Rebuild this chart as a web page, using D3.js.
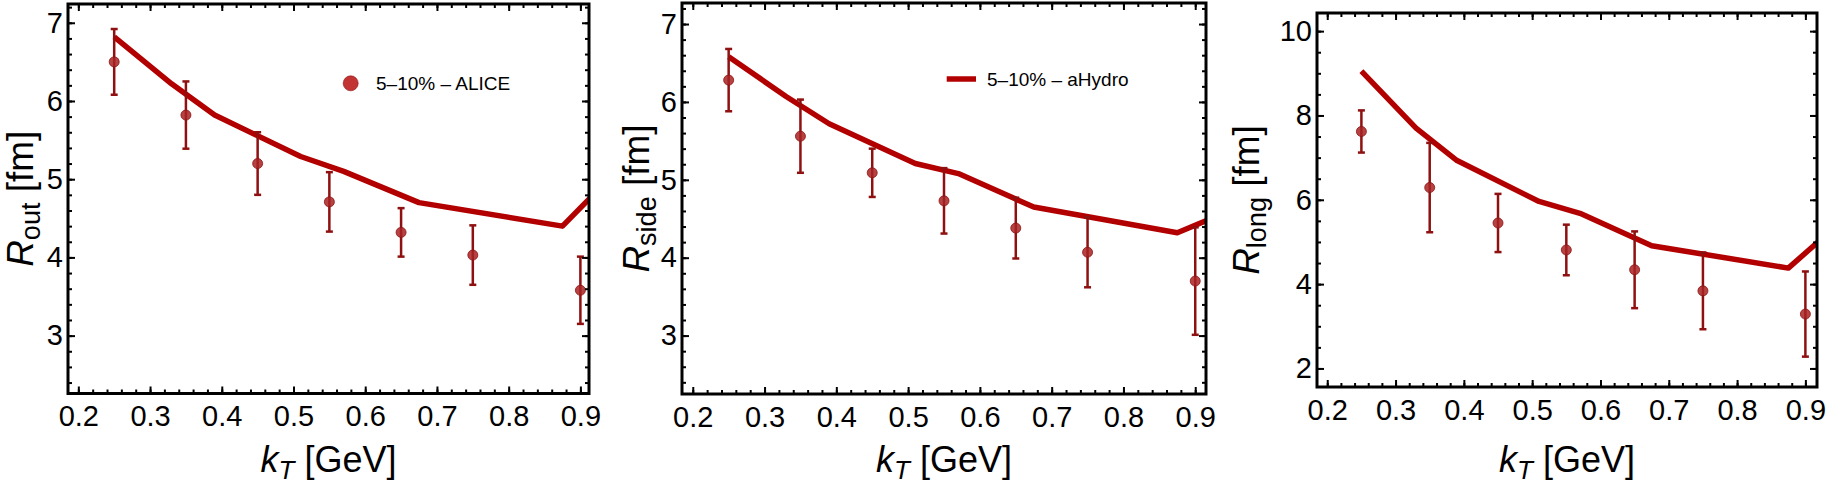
<!DOCTYPE html>
<html>
<head>
<meta charset="utf-8">
<script src="https://cdn.jsdelivr.net/npm/d3@7"></script>
<style>
    body { margin: 0; background: #fff; }
    svg { display: block; font-family: "Liberation Sans", Arial, sans-serif; }
</style>
</head>
<body>
<svg id="chart" width="1830" height="484"></svg>
<script>
// ALICE points, 5-10% centrality
let kT = [0.25, 0.35, 0.45, 0.55, 0.65, 0.75, 0.9];
let rOut = [6.50, 5.82, 5.20, 4.71, 4.32, 4.03, 3.58];
let rOutErr = [0.42, 0.43, 0.40, 0.38, 0.31, 0.38, 0.43];
let rSide = [6.28, 5.56, 5.09, 4.73, 4.38, 4.07, 3.70];
let rSideErr = [0.40, 0.47, 0.31, 0.42, 0.39, 0.45, 0.69];
let rLong = [7.62, 6.29, 5.45, 4.81, 4.34, 3.84, 3.29];
let rLongErr = [0.50, 1.06, 0.69, 0.60, 0.91, 0.91, 1.01];

// aHydro curve
let kTModel = [0.25, 0.33, 0.39, 0.51, 0.57, 0.675, 0.875, 0.95];
let rOutModel = [6.82, 6.22, 5.82, 5.29, 5.10, 4.70, 4.40, 5.10];
let rSideModel = [6.58, 6.07, 5.72, 5.21, 5.08, 4.65, 4.32, 4.61];
let rLongModel = [9.05, 7.70, 6.93, 5.96, 5.68, 4.91, 4.38, 5.45];

// tick labels
let xTicks = [0.2, 0.3, 0.4, 0.5, 0.6, 0.7, 0.8, 0.9];
let yTicksShort = [3, 4, 5, 6, 7];
let yTicksLong = [2, 4, 6, 8, 10];

let legendData = "5\u201310% \u2013 ALICE";
let legendModel = "5\u201310% \u2013 aHydro";

let red = "#b20000";
let darkRed = "#8e1010";

let svg = d3.select("#chart");

let panels = [
    {
        id: "out", sub: "out", vals: rOut, errs: rOutErr, model: rOutModel,
        left: 68, right: 589, top: 4, bottom: 393.5,
        xDomain: [0.1856, 0.912], yDomain: [2.26, 7.24],
        yTicks: yTicksShort, yMinor: 0.2, labelOff: 35,
        legend: "dot"
    },
    {
        id: "side", sub: "side", vals: rSide, errs: rSideErr, model: rSideModel,
        left: 682, right: 1206, top: 3, bottom: 394,
        xDomain: [0.185, 0.915], yDomain: [2.25, 7.27],
        yTicks: yTicksShort, yMinor: 0.2, labelOff: 33,
        legend: "line"
    },
    {
        id: "long", sub: "long", vals: rLong, errs: rLongErr, model: rLongModel,
        left: 1317, right: 1817, top: 13, bottom: 387,
        xDomain: [0.185, 0.917], yDomain: [1.56, 10.43],
        yTicks: yTicksLong, yMinor: 0.5, labelOff: 58,
        legend: null
    }
];

panels.forEach(drawPanel);

function drawPanel(p) {
    let x = d3.scaleLinear().domain(p.xDomain).range([p.left, p.right]);
    let y = d3.scaleLinear().domain(p.yDomain).range([p.bottom, p.top]);
    let g = svg.append("g");

    g.append("clipPath")
        .attr("id", "clip-" + p.id)
        .append("rect")
        .attr("x", p.left)
        .attr("y", p.top)
        .attr("width", p.right - p.left)
        .attr("height", p.bottom - p.top);

    // model curve
    let line = d3.line()
        .x(function (d) { return x(d[0]); })
        .y(function (d) { return y(d[1]); });

    g.append("path")
        .datum(d3.zip(kTModel, p.model))
        .attr("clip-path", "url(#clip-" + p.id + ")")
        .attr("d", line)
        .attr("fill", "none")
        .attr("stroke", red)
        .attr("stroke-width", 5.5)
        .attr("stroke-linejoin", "round");

    // error bars
    let pts = kT.map(function (k, i) { return { k: k, v: p.vals[i], e: p.errs[i] }; });

    let bars = g.selectAll(".err")
        .data(pts)
        .enter()
        .append("g")
        .attr("stroke", darkRed)
        .attr("stroke-width", 2.5);

    bars.append("line")
        .attr("x1", function (d) { return x(d.k); })
        .attr("x2", function (d) { return x(d.k); })
        .attr("y1", function (d) { return y(d.v - d.e); })
        .attr("y2", function (d) { return y(d.v + d.e); });

    [-1, 1].forEach(function (s) {
        bars.append("line")
            .attr("x1", function (d) { return x(d.k) - 3.5; })
            .attr("x2", function (d) { return x(d.k) + 3.5; })
            .attr("y1", function (d) { return y(d.v + s * d.e); })
            .attr("y2", function (d) { return y(d.v + s * d.e); });
    });

    g.selectAll(".pt")
        .data(pts)
        .enter()
        .append("circle")
        .attr("cx", function (d) { return x(d.k); })
        .attr("cy", function (d) { return y(d.v); })
        .attr("r", 5)
        .attr("fill", "#a82222")
        .attr("fill-opacity", 0.85)
        .attr("stroke", darkRed)
        .attr("stroke-width", 0.8);

    // ticks, all four sides point inward
    let xMinor = d3.range(0.2, 0.92, 0.02).filter(function (v) { return v >= p.xDomain[0] && v <= p.xDomain[1]; });
    let yMinor = d3.range(Math.ceil(p.yDomain[0] / p.yMinor) * p.yMinor, p.yDomain[1], p.yMinor);

    let axes = [
        [d3.axisBottom(x).tickValues(xTicks).tickFormat(d3.format(".1f")).tickSize(-7).tickPadding(12), p.bottom, "x"],
        [d3.axisBottom(x).tickValues(xMinor).tickFormat("").tickSize(-4), p.bottom, "x"],
        [d3.axisTop(x).tickValues(xTicks).tickFormat("").tickSize(-7), p.top, "x"],
        [d3.axisTop(x).tickValues(xMinor).tickFormat("").tickSize(-4), p.top, "x"],
        [d3.axisLeft(y).tickValues(p.yTicks).tickFormat(d3.format("d")).tickSize(-7).tickPadding(5), p.left, "y"],
        [d3.axisLeft(y).tickValues(yMinor).tickFormat("").tickSize(-4), p.left, "y"],
        [d3.axisRight(y).tickValues(p.yTicks).tickFormat("").tickSize(-7), p.right, "y"],
        [d3.axisRight(y).tickValues(yMinor).tickFormat("").tickSize(-4), p.right, "y"]
    ];

    axes.forEach(function (a) {
        let ag = g.append("g")
            .attr("transform", a[2] == "x" ? "translate(0," + a[1] + ")" : "translate(" + a[1] + ",0)")
            .call(a[0]);
        ag.select(".domain").remove();
        ag.selectAll("line").attr("stroke", "#000").attr("stroke-width", 2);
        ag.selectAll("text")
            .attr("fill", "#000")
            .attr("font-size", 29)
            .attr("font-family", "Liberation Sans, Arial, sans-serif");
    });

    // frame
    g.append("rect")
        .attr("x", p.left)
        .attr("y", p.top)
        .attr("width", p.right - p.left)
        .attr("height", p.bottom - p.top)
        .attr("fill", "none")
        .attr("stroke", "#000")
        .attr("stroke-width", 3);

    // x label
    let xl = g.append("text")
        .attr("x", (p.left + p.right) / 2)
        .attr("y", 472)
        .attr("text-anchor", "middle")
        .attr("font-size", 36);
    xl.append("tspan").attr("font-style", "italic").text("k");
    xl.append("tspan").attr("font-style", "italic").attr("font-size", 26).attr("dy", 7).text("T");
    xl.append("tspan").attr("dy", -7).text(" [GeV]");

    // y label
    let cy = (p.top + p.bottom) / 2;
    let yl = g.append("text")
        .attr("transform", "translate(" + (p.left - p.labelOff) + "," + cy + ") rotate(-90)")
        .attr("text-anchor", "middle")
        .attr("font-size", 37);
    yl.append("tspan").attr("font-style", "italic").text("R");
    yl.append("tspan").attr("font-size", 27).attr("dy", 7).text(p.sub);
    yl.append("tspan").attr("dy", -7).text(" [fm]");

    // legends
    if (p.legend == "dot") {
        g.append("circle")
            .attr("cx", 350.7).attr("cy", 83.3).attr("r", 7.5)
            .attr("fill", "#c23434")
            .attr("stroke", darkRed).attr("stroke-width", 0.6);
        g.append("text")
            .attr("x", 376).attr("y", 90)
            .attr("font-size", 19)
            .text(legendData);
    } else if (p.legend == "line") {
        g.append("line")
            .attr("x1", 946.7).attr("x2", 976)
            .attr("y1", 79).attr("y2", 79)
            .attr("stroke", red).attr("stroke-width", 5.5);
        g.append("text")
            .attr("x", 987).attr("y", 86)
            .attr("font-size", 19)
            .text(legendModel);
    }
}
</script>
</body>
</html>
